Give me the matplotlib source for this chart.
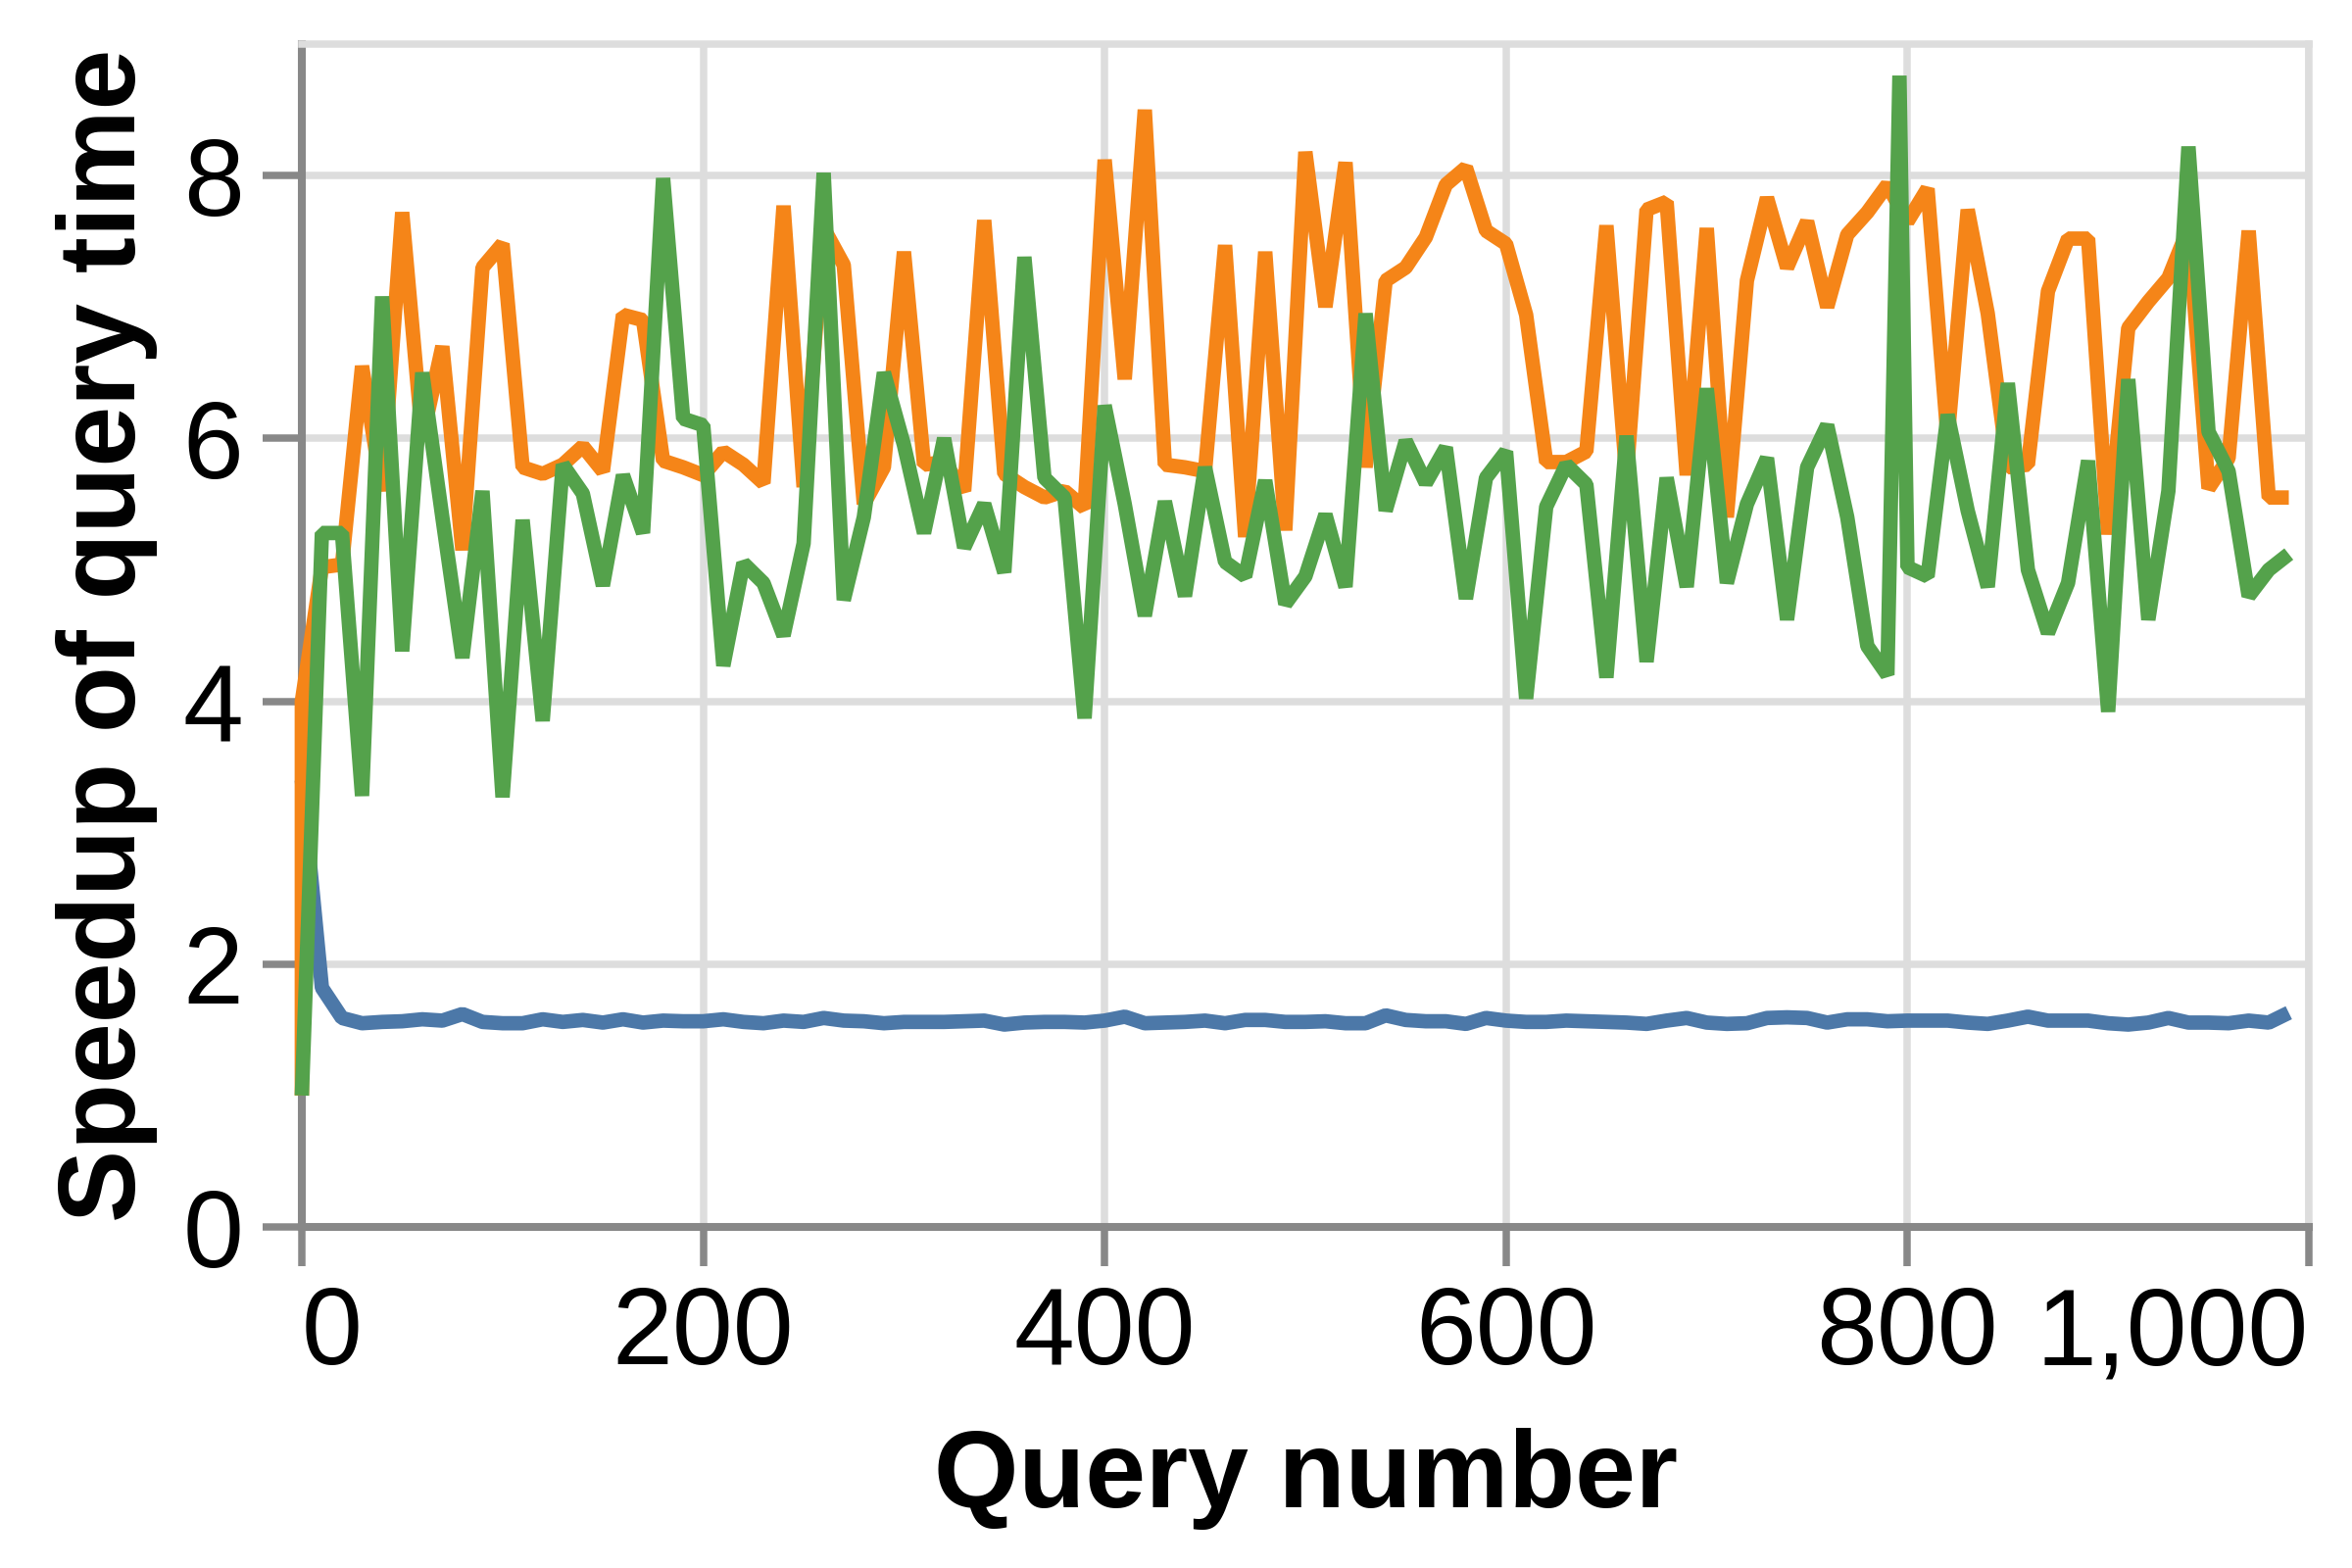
import matplotlib
matplotlib.use("Agg")
import matplotlib.pyplot as plt

# ---------------- data ----------------
query_numbers = list(range(0, 1000, 10))

blue_vals = [3.4, 1.82, 1.59, 1.55, 1.56, 1.565, 1.58, 1.57, 1.62, 1.56,
             1.55, 1.55, 1.58, 1.56, 1.575, 1.555, 1.58, 1.555, 1.57, 1.565,
             1.565, 1.58, 1.56, 1.55, 1.57, 1.56, 1.59, 1.57, 1.565, 1.55,
             1.56, 1.56, 1.56, 1.565, 1.57, 1.54, 1.555, 1.56, 1.56, 1.555,
             1.57, 1.6, 1.55, 1.555, 1.56, 1.57, 1.55, 1.575, 1.575, 1.56,
             1.56, 1.565, 1.55, 1.55, 1.61, 1.575, 1.565, 1.565, 1.545, 1.59,
             1.57, 1.56, 1.56, 1.57, 1.565, 1.56, 1.555, 1.545, 1.57, 1.59,
             1.555, 1.545, 1.55, 1.59, 1.595, 1.59, 1.555, 1.58, 1.58, 1.565,
             1.57, 1.57, 1.57, 1.555, 1.545, 1.57, 1.6, 1.57, 1.57, 1.57,
             1.55, 1.54, 1.555, 1.59, 1.555, 1.555, 1.55, 1.57, 1.555, 1.63]

orange_x = [0] + query_numbers
orange_vals = [1.0,
               4.0, 5.02, 5.04, 6.55, 5.6, 7.72, 6.0, 6.7, 5.15, 7.3,
               7.48, 5.78, 5.73, 5.8, 5.94, 5.75, 6.94, 6.9, 5.83, 5.78,
               5.72, 5.9, 5.8, 5.66, 7.77, 5.63, 7.6, 7.32, 5.5, 5.78,
               7.42, 5.8, 5.82, 5.6, 7.66, 5.73, 5.63, 5.55, 5.6, 5.47,
               8.12, 6.45, 8.5, 5.8, 5.78, 5.75, 7.47, 5.25, 7.42, 5.3,
               8.18, 7.0, 8.1, 5.78, 7.2, 7.3, 7.53, 7.93, 8.06, 7.58,
               7.48, 6.94, 5.82, 5.82, 5.9, 7.62, 5.7, 7.74, 7.8, 5.72,
               7.6, 5.4, 7.2, 7.83, 7.3, 7.65, 7.0, 7.55, 7.72, 7.93,
               7.65, 7.9, 6.0, 7.74, 6.95, 5.78, 5.8, 7.12, 7.52, 7.52,
               5.27, 6.84, 7.04, 7.22, 7.6, 5.62, 5.85, 7.58, 5.55, 5.55]

green_x = query_numbers[:80] + [796] + query_numbers[80:]
green_vals = [1.0, 5.28, 5.28, 3.28, 7.08, 4.38, 6.5, 5.4, 4.33, 5.6,
              3.27, 5.38, 3.85, 5.8, 5.58, 4.88, 5.72, 5.28, 7.98, 6.15,
              6.1, 4.27, 5.05, 4.9, 4.5, 5.2, 8.02, 4.77, 5.4, 6.5,
              5.95, 5.28, 6.0, 5.17, 5.5, 4.98, 7.38, 5.7, 5.55, 3.87,
              6.25, 5.5, 4.65, 5.52, 4.8, 5.78, 5.06, 4.95, 5.68, 4.74,
              4.95, 5.42, 4.87, 6.95, 5.45, 5.98, 5.66, 5.93, 4.78, 5.7,
              5.9, 4.02, 5.48, 5.8, 5.65, 4.18, 6.02, 4.3, 5.7, 4.87,
              6.38, 4.9, 5.5, 5.85, 4.62, 5.78, 6.1, 5.4, 4.42, 4.2,
              8.76,
              5.02, 4.95, 6.18, 5.45, 4.87, 6.42, 5.0, 4.52, 4.9, 5.83,
              3.92, 6.45, 4.62, 5.6, 8.22, 6.05, 5.75, 4.8, 5.0, 5.12]

x_ticks = [0, 200, 400, 600, 800, 1000]
x_tick_labels = ["0", "200", "400", "600", "800", "1,000"]
y_ticks = [0, 2, 4, 6, 8]
y_tick_labels = ["0", "2", "4", "6", "8"]

x_title = "Query number"
y_title = "Speedup of query time"

# ---------------- style ----------------
plt.rcParams['font.family'] = ['Liberation Sans', 'DejaVu Sans']
BLUE, ORANGE, GREEN = "#4c78a8", "#f58518", "#54a24b"
AXIS_GRAY = "#888888"
GRID_GRAY = "#dddddd"
FS = 40

fig = plt.figure(figsize=(12, 8), dpi=200)
ax = fig.add_axes([308 / 2400, 348 / 1600, 2048 / 2400, 1207 / 1600])

lw = 5.3
for xs, ys, c in [(query_numbers, blue_vals, BLUE),
                  (orange_x, orange_vals, ORANGE),
                  (green_x, green_vals, GREEN)]:
    ax.plot(xs, ys, color=c, lw=lw, solid_joinstyle='bevel',
            solid_capstyle='butt', clip_on=False, zorder=3)

ax.set_xlim(0, 1000)
ax.set_ylim(0, 9)

ax.set_xticks(x_ticks)
ax.set_xticklabels(x_tick_labels)
ax.set_yticks(y_ticks)
ax.set_yticklabels(y_tick_labels)

ax.set_axisbelow(True)
ax.grid(True, color=GRID_GRAY, lw=2.7)

for side in ['left', 'bottom']:
    ax.spines[side].set_color(AXIS_GRAY)
    ax.spines[side].set_linewidth(2.9)
for side in ['top', 'right']:
    ax.spines[side].set_color(GRID_GRAY)
    ax.spines[side].set_linewidth(2.7)

ax.tick_params(axis='both', direction='out', length=14.4, width=2.7,
               color=AXIS_GRAY, labelsize=FS, labelcolor='black', pad=7)

xl = ax.get_xticklabels()
xl[0].set_ha('left')
xl[-1].set_ha('right')

fig.text(1332 / 2400, 62 / 1600, x_title, fontsize=FS, fontweight='bold',
         ha='center', va='baseline')
fig.text(138 / 2400, 1 - 648.5 / 1600, y_title, fontsize=FS, fontweight='bold',
         ha='center', va='baseline', rotation=90, rotation_mode='anchor')

fig.savefig("out.png", dpi=200, facecolor='white')
